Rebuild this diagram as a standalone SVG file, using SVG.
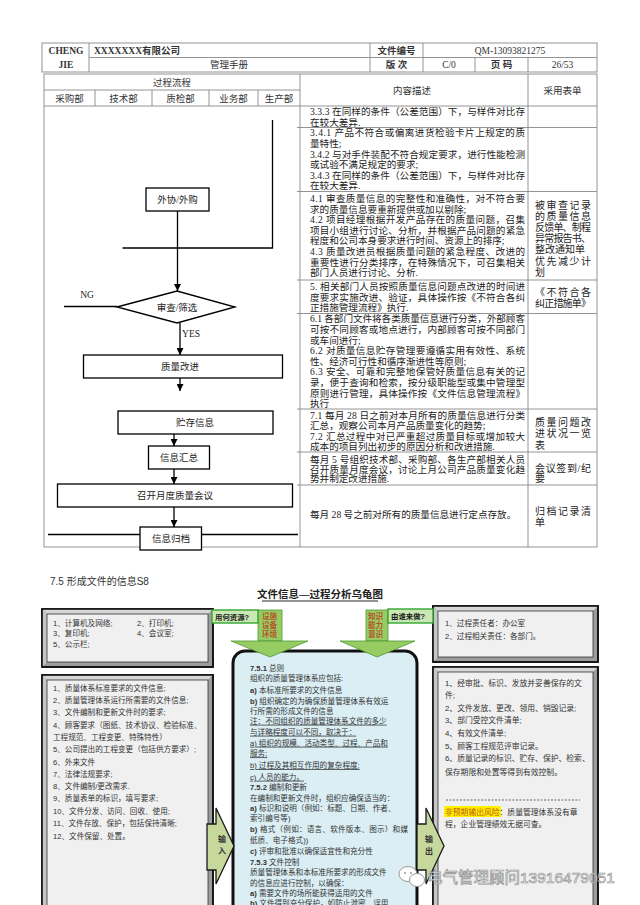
<svg xmlns="http://www.w3.org/2000/svg" width="640" height="905" viewBox="0 0 640 905">
<defs>
<style>
.t{font-family:"Liberation Serif","Noto Sans CJK SC",serif;fill:#222}
.c{font-size:9.6px}
.fm{font-size:10px}
.hd{font-size:9.5px;fill:#333}
.s{font-family:"Liberation Sans","Noto Sans CJK SC",sans-serif;fill:#333}
.b{font-weight:bold}
.grid{stroke:#888;stroke-width:0.9;fill:none}
.nb{fill:#fff;stroke:#000;stroke-width:1.3}
.fl{font-size:9.5px;fill:#222;text-anchor:middle}
.sm{font-size:7.6px}
.tag{fill:#c9e8b3;stroke:#33a532;stroke-width:1.4}
.tagt{font-size:7.4px;font-weight:bold;fill:#1a1a1a}
.res{font-size:7.6px;font-weight:bold;fill:#b4532a}
.garrow{fill:#97cc63;stroke:#4d9a33;stroke-width:0.8}
.ioarrow{fill:#c6d89c;stroke:#1a1a1a;stroke-width:1.3}
.u{text-decoration:underline}
</style>
<marker id="ah" viewBox="0 0 10 10" refX="10" refY="5" markerWidth="7" markerHeight="7" markerUnits="userSpaceOnUse" orient="auto">
<path d="M0,0 L10,5 L0,10 z" fill="#000"/>
</marker>
</defs>
<rect width="640" height="905" fill="#fff"/>

<!-- header -->
<g id="header">
<rect x="42" y="43" width="555" height="29" class="grid"/>
<line x1="89" y1="57.5" x2="597" y2="57.5" class="grid"/>
<line x1="89" y1="43" x2="89" y2="72" class="grid"/>
<line x1="370" y1="43" x2="370" y2="72" class="grid"/>
<line x1="423" y1="43" x2="423" y2="72" class="grid"/>
<line x1="475" y1="57.5" x2="475" y2="72" class="grid"/>
<line x1="528" y1="57.5" x2="528" y2="72" class="grid"/>
<text class="t hd b" x="66" y="54" text-anchor="middle">CHENG</text>
<text class="t hd b" x="66" y="68" text-anchor="middle">JIE</text>
<text class="t hd b" x="94" y="54">XXXXXXX有限公司</text>
<text class="t hd" x="229" y="68" text-anchor="middle">管理手册</text>
<text class="t hd b" x="396.5" y="54" text-anchor="middle">文件编号</text>
<text class="t hd" x="510" y="54" text-anchor="middle">QM-13093821275</text>
<text class="t hd b" x="396.5" y="68" text-anchor="middle">版 次</text>
<text class="t hd" x="449" y="68" text-anchor="middle">C/0</text>
<text class="t hd b" x="501.5" y="68" text-anchor="middle">页 码</text>
<text class="t hd" x="562.5" y="68" text-anchor="middle">26/53</text>
</g>

<!-- table -->
<g id="table">
<rect x="44" y="74" width="553" height="473" class="grid"/>
<line x1="44" y1="90" x2="300" y2="90" class="grid"/>
<line x1="44" y1="106" x2="597" y2="106" class="grid"/>
<line x1="95" y1="90" x2="95" y2="106" class="grid"/>
<line x1="152" y1="90" x2="152" y2="106" class="grid"/>
<line x1="209" y1="90" x2="209" y2="106" class="grid"/>
<line x1="258" y1="90" x2="258" y2="106" class="grid"/>
<line x1="300" y1="74" x2="300" y2="547" class="grid"/>
<line x1="528" y1="74" x2="528" y2="547" class="grid"/>
<line x1="297" y1="127.5" x2="597" y2="127.5" class="grid"/>
<line x1="297" y1="191.5" x2="597" y2="191.5" class="grid"/>
<line x1="297" y1="280" x2="597" y2="280" class="grid"/>
<line x1="297" y1="313.5" x2="597" y2="313.5" class="grid"/>
<line x1="297" y1="409" x2="597" y2="409" class="grid"/>
<line x1="297" y1="452" x2="597" y2="452" class="grid"/>
<line x1="297" y1="485" x2="597" y2="485" class="grid"/>
<text class="t hd" x="172" y="86" text-anchor="middle">过程流程</text>
<text class="t hd" x="69.5" y="102" text-anchor="middle">采购部</text>
<text class="t hd" x="123.5" y="102" text-anchor="middle">技术部</text>
<text class="t hd" x="180.5" y="102" text-anchor="middle">质检部</text>
<text class="t hd" x="233.5" y="102" text-anchor="middle">业务部</text>
<text class="t hd" x="279" y="102" text-anchor="middle">生产部</text>
<text class="t hd" x="412" y="94" text-anchor="middle">内容描述</text>
<text class="t hd" x="562.5" y="94" text-anchor="middle">采用表单</text>
</g>

<!-- content column -->
<g id="content" class="t c">
<text x="310" y="115" textLength="215" lengthAdjust="spacing">3.3.3 在同样的条件（公差范围）下，与样件对比存</text>
<text x="310" y="125.5">在较大差异.</text>
<text x="310" y="136.4" textLength="215" lengthAdjust="spacing">3.4.1 产品不符合或偏离进货检验卡片上规定的质</text>
<text x="310" y="147">量特性;</text>
<text x="310" y="157.6" textLength="215" lengthAdjust="spacing">3.4.2 与对手件装配不符合规定要求，进行性能检测</text>
<text x="310" y="168.2">或试验不满足规定的要求;</text>
<text x="310" y="178.8" textLength="215" lengthAdjust="spacing">3.4.3 在同样的条件（公差范围）下，与样件对比存</text>
<text x="310" y="189.4">在较大差异.</text>
<text x="310" y="202" textLength="215" lengthAdjust="spacing">4.1 审查质量信息的完整性和准确性，对不符合要</text>
<text x="310" y="212.6">求的质量信息要重新提供或加以剔除;</text>
<text x="310" y="223.2" textLength="215" lengthAdjust="spacing">4.2 项目经理根据开发产品存在的质量问题，召集</text>
<text x="310" y="233.8" textLength="215" lengthAdjust="spacing">项目小组进行讨论、分析，并根据产品问题的紧急</text>
<text x="310" y="244.4">程度和公司本身要求进行时间、资源上的排序;</text>
<text x="310" y="255" textLength="215" lengthAdjust="spacing">4.3 质量改进员根据质量问题的紧急程度、改进的</text>
<text x="310" y="265.6" textLength="215" lengthAdjust="spacing">重要性进行分类排序，在特殊情况下，可召集相关</text>
<text x="310" y="276.2">部门人员进行讨论、分析.</text>
<text x="310" y="290" textLength="215" lengthAdjust="spacing">5. 相关部门人员按照质量信息问题点改进的时间进</text>
<text x="310" y="300.6" textLength="215" lengthAdjust="spacing">度要求实施改进、验证，具体操作按《不符合各纠</text>
<text x="310" y="311.2">正措施管理流程》执行.</text>
<text x="310" y="322.4" textLength="215" lengthAdjust="spacing">6.1 各部门文件将各类质量信息进行分类，外部顾客</text>
<text x="310" y="333" textLength="215" lengthAdjust="spacing">可按不同顾客或地点进行，内部顾客可按不同部门</text>
<text x="310" y="343.6">或车间进行;</text>
<text x="310" y="354.2" textLength="215" lengthAdjust="spacing">6.2 对质量信息贮存管理要遵循实用有效性、系统</text>
<text x="310" y="364.8">性、经济可行性和循序渐进性等原则;</text>
<text x="310" y="375.4" textLength="215" lengthAdjust="spacing">6.3 安全、可靠和完整地保管好质量信息有关的记</text>
<text x="310" y="386" textLength="215" lengthAdjust="spacing">录，便于查询和检索，按分级职能型或集中管理型</text>
<text x="310" y="396.6" textLength="215" lengthAdjust="spacing">原则进行管理，具体操作按《文件信息管理流程》</text>
<text x="310" y="407.2">执行</text>
<text x="310" y="418.6" textLength="215" lengthAdjust="spacing">7.1 每月 28 日之前对本月所有的质量信息进行分类</text>
<text x="310" y="429.2">汇总，观察公司本月产品质量变化的趋势;</text>
<text x="310" y="439.8" textLength="215" lengthAdjust="spacing">7.2 汇总过程中对已严重超过质量目标或增加较大</text>
<text x="310" y="450.4">成本的项目列出初步的原因分析和改进措施.</text>
<text x="310" y="462.6" textLength="215" lengthAdjust="spacing">每月 5 号组织技术部、采购部、各生产部相关人员</text>
<text x="310" y="472.6" textLength="215" lengthAdjust="spacing">召开质量月度会议，讨论上月公司产品质量变化趋</text>
<text x="310" y="482.4">势并制定改进措施.</text>
<text x="310" y="517.6">每月 28 号之前对所有的质量信息进行定点存放。</text>
</g>

<!-- form column -->
<g id="forms" class="t fm">
<text x="535" y="208.6" textLength="56" lengthAdjust="spacing">被审查记录</text>
<text x="535" y="219.8" textLength="56" lengthAdjust="spacing">的质量信息</text>
<text x="535" y="231" textLength="56" lengthAdjust="spacing">反馈单、制程</text>
<text x="535" y="242.2" textLength="56" lengthAdjust="spacing">异常报告书、</text>
<text x="535" y="253.4">整改通知单</text>
<text x="535" y="264.6" textLength="56" lengthAdjust="spacing">优先减少计</text>
<text x="535" y="275.8">划</text>
<text x="535" y="296" textLength="56" lengthAdjust="spacing">《不符合各</text>
<text x="535" y="307" textLength="56" lengthAdjust="spacing">纠正措施单》</text>
<text x="535" y="425.6" textLength="56" lengthAdjust="spacing">质量问题改</text>
<text x="535" y="437.1" textLength="56" lengthAdjust="spacing">进状况一览</text>
<text x="535" y="448.6">表</text>
<text x="535" y="471.6" textLength="56" lengthAdjust="spacing">会议签到/纪</text>
<text x="535" y="481.6">要</text>
<text x="535" y="514.6" textLength="56" lengthAdjust="spacing">归档记录清</text>
<text x="535" y="525.6">单</text>
</g>

<!-- flowchart connectors -->
<g id="connectors" stroke="#000" stroke-width="1.3" fill="none">
<polyline points="272.5,120 272.5,248 122.5,248"/>
<line x1="177.5" y1="211" x2="177.5" y2="248"/>
<line x1="177.5" y1="248" x2="177.5" y2="291" marker-end="url(#ah)"/>
<line x1="64" y1="306.5" x2="117" y2="306.5"/>
<line x1="180" y1="323" x2="180" y2="355" marker-end="url(#ah)"/>
<line x1="180" y1="378" x2="180" y2="391" marker-end="url(#ah)"/>
<line x1="174" y1="428" x2="174" y2="446" marker-end="url(#ah)"/>
<line x1="174" y1="469" x2="174" y2="484" marker-end="url(#ah)"/>
<line x1="174" y1="507" x2="174" y2="527" marker-end="url(#ah)"/>
<line x1="48" y1="534.5" x2="298" y2="534.5"/>
</g>
<text class="t fl" x="87" y="298">NG</text>
<text class="t fl" x="191" y="337">YES</text>

<g id="n-waixie"><rect x="146" y="188" width="63" height="23" class="nb"/><text class="t fl" x="177.5" y="203">外协/外购</text></g>
<g id="n-shencha"><polygon points="117,307 177,291 235,307 177,323" class="nb"/><text class="t fl" x="177" y="310.5">审查/筛选</text></g>
<g id="n-gaijin"><rect x="83.5" y="355" width="199" height="23" class="nb"/><text class="t fl" x="180" y="370">质量改进</text></g>
<g id="n-zhucun"><rect x="118" y="411" width="155" height="23" class="nb"/><text class="t fl" x="195" y="426">贮存信息</text></g>
<g id="n-huizong"><rect x="148.5" y="446" width="61" height="23" class="nb"/><text class="t fl" x="179" y="461">信息汇总</text></g>
<g id="n-huiyi"><rect x="57.5" y="484" width="235" height="23" class="nb"/><text class="t fl" x="175" y="499">召开月度质量会议</text></g>
<g id="n-guidang"><rect x="140" y="527" width="61.5" height="23" class="nb"/><text class="t fl" x="171" y="542">信息归档</text></g>

<!-- bottom section -->
<text class="s" x="50" y="585" font-size="10">7.5 形成文件的信息S8</text>
<text class="t b" x="320" y="598" font-size="10.5" text-anchor="middle" fill="#111">文件信息—过程分析乌龟图</text>
<line x1="262" y1="601" x2="378" y2="601" stroke="#111" stroke-width="0.9"/>

<g id="box-resources">
<rect x="42" y="609" width="171" height="58" fill="#9c9c9c" stroke="#111" stroke-width="1.6"/>
<polygon points="42,609 213,609 208,614 47,614" fill="#d6d6d6"/>
<polygon points="42,609 47,614 47,662 42,667" fill="#c6c6c6"/>
<rect x="47" y="614" width="161" height="48" fill="#f0f0f0" stroke="#333" stroke-width="0.8"/>
<rect x="42" y="609" width="171" height="58" fill="none" stroke="#111" stroke-width="1.6"/>
<g class="s sm">
<text x="53" y="625.5">1、计算机及网络;</text>
<text x="137" y="625.5">2、打印机;</text>
<text x="53" y="636">3、复印机;</text>
<text x="137" y="636">4、会议室;</text>
<text x="53" y="646.5">5、公示栏;</text>
</g>
</g>

<g id="box-input">
<rect x="42" y="675" width="171" height="260" fill="#9c9c9c" stroke="#111" stroke-width="1.6"/>
<polygon points="42,675 213,675 208,680 47,680" fill="#d6d6d6"/>
<polygon points="42,675 47,680 47,930 42,935" fill="#c6c6c6"/>
<rect x="47" y="680" width="161" height="250" fill="#f0f0f0" stroke="#333" stroke-width="0.8"/>
<rect x="42" y="675" width="171" height="260" fill="none" stroke="#111" stroke-width="1.6"/>
<g class="s sm">
<text x="53" y="691">1、质量体系标准要求的文件信息;</text>
<text x="53" y="703">2、质量管理体系运行所需要的文件信息;</text>
<text x="53" y="715">3、文件编制和更新文件时的要求;</text>
<text x="53" y="728">4、顾客要求（图纸、技术协议、检验标准、</text>
<text x="53" y="740">工程规范、工程变更、特殊特性）</text>
<text x="53" y="752">5、公司提出的工程变更（包括供方要求）;</text>
<text x="53" y="765">6、外来文件</text>
<text x="53" y="776.5">7、法律法规要求;</text>
<text x="53" y="789">8、文件编制/更改需求.</text>
<text x="53" y="801">9、质量表单的标识，填写要求;</text>
<text x="53" y="814">10、文件分发、访问、回收、使用;</text>
<text x="53" y="826">11、文件存放、保护，包括保持清晰;</text>
<text x="53" y="839">12、文件保留、处置。</text>
</g>
</g>

<g id="box-who">
<rect x="433" y="606" width="165" height="56" fill="#9c9c9c" stroke="#111" stroke-width="1.6"/>
<polygon points="433,606 598,606 593,611 438,611" fill="#d6d6d6"/>
<polygon points="433,606 438,611 438,657 433,662" fill="#c6c6c6"/>
<rect x="438" y="611" width="155" height="46" fill="#f0f0f0" stroke="#333" stroke-width="0.8"/>
<rect x="433" y="606" width="165" height="56" fill="none" stroke="#111" stroke-width="1.6"/>
<g class="s sm">
<text x="445" y="625.5">1、过程责任者：办公室</text>
<text x="445" y="639">2、过程相关责任：各部门。</text>
</g>
</g>

<g id="box-output">
<rect x="433" y="667" width="165" height="260" fill="#9c9c9c" stroke="#111" stroke-width="1.6"/>
<polygon points="433,667 598,667 593,672 438,672" fill="#d6d6d6"/>
<polygon points="433,667 438,672 438,922 433,927" fill="#c6c6c6"/>
<rect x="438" y="672" width="155" height="250" fill="#f0f0f0" stroke="#333" stroke-width="0.8"/>
<rect x="433" y="667" width="165" height="260" fill="none" stroke="#111" stroke-width="1.6"/>
<g class="s" font-size="7.8">
<text x="445" y="686.3">1、经审批、标识、发放并妥善保存的文</text>
<text x="445" y="698">件;</text>
<text x="445" y="711">2、文件发放、更改、领用、销毁记录;</text>
<text x="445" y="723">3、部门受控文件清单;</text>
<text x="445" y="736">4、有效文件清单;</text>
<text x="445" y="748.7">5、顾客工程规范评审记录。</text>
<text x="445" y="761">6、质量记录的标识、贮存、保护、检索、</text>
<text x="445" y="774.7">保存期限和处置等得到有效控制。</text>
<line x1="446" y1="800" x2="580" y2="800" stroke="#444" stroke-width="0.8" stroke-dasharray="2,1.5"/>
<rect x="444" y="806" width="57" height="11" fill="#fff200"/>
<text x="445" y="814.7"><tspan fill="#c0561a">非预期输出风险</tspan>：质量管理体系没有章</text>
<text x="445" y="826.5">程，企业管理绩效无据可查。</text>
</g>
</g>

<g id="process">
<rect x="233" y="651" width="184" height="290" rx="12" fill="#daeef3" stroke="#111" stroke-width="3"/>
<g class="s sm" fill="#222">
<text x="250" y="671.3"><tspan font-weight="bold">7.5.1</tspan> 总则</text>
<text x="250" y="681.3">组织的质量管理体系应包括:</text>
<text x="250" y="693"><tspan font-weight="bold">a)</tspan> 本标准所要求的文件信息</text>
<text x="250" y="703.7"><tspan font-weight="bold">b)</tspan> 组织确定的为确保质量管理体系有效运</text>
<text x="250" y="713.7">行所需的形成文件的信息</text>
<text x="250" y="723.7" class="u">注：不同组织的质量管理体系文件的多少</text>
<text x="250" y="734.7" class="u">与详略程度可以不同，取决于：</text>
<text x="250" y="745.7" class="u">a) 组织的规模、活动类型、过程、产品和</text>
<text x="250" y="756.3" class="u">服务;</text>
<text x="250" y="768" class="u">b) 过程及其相互作用的复杂程度;</text>
<text x="250" y="779.7" class="u">c) 人员的能力。</text>
<text x="250" y="789.7"><tspan font-weight="bold">7.5.2</tspan> 编制和更新</text>
<text x="250" y="801.3">在编制和更新文件时，组织应确保适当的：</text>
<text x="250" y="811.3"><tspan font-weight="bold">a)</tspan> 标识和说明（例如：标题、日期、作者、</text>
<text x="250" y="821.3">索引编号等)</text>
<text x="250" y="832" textLength="158" lengthAdjust="spacing"><tspan font-weight="bold">b)</tspan> 格式（例如：语言、软件版本、图示）和媒</text>
<text x="250" y="843">纸质、电子格式))</text>
<text x="250" y="854"><tspan font-weight="bold">c)</tspan> 评审和批准以确保适宜性和充分性</text>
<text x="250" y="864.7"><tspan font-weight="bold">7.5.3</tspan> 文件控制</text>
<text x="250" y="875.3">质量管理体系和本标准所要求的形成文件</text>
<text x="250" y="886.3">的信息应进行控制，以确保：</text>
<text x="250" y="896.3"><tspan font-weight="bold">a)</tspan> 需要文件的场所能获得适用的文件</text>
<text x="250" y="906"><tspan font-weight="bold">b)</tspan> 文件得到充分保护，如防止泄密、误用</text>
</g>
</g>

<g id="arrow-resources">
<rect x="258" y="610" width="24" height="31" class="garrow"/>
<polygon points="231,641 308,641 270,657" class="garrow"/>
<rect x="212" y="610" width="46" height="13" class="tag"/>
<text class="s tagt" x="215" y="619.5">用何资源?</text>
<text class="s res" x="262" y="619">设施</text>
<text class="s res" x="262" y="628">设备</text>
<text class="s res" x="262" y="637">环境</text>
</g>

<g id="arrow-who">
<rect x="366" y="610" width="22" height="31" class="garrow"/>
<polygon points="340,641 415,641 377,657" class="garrow"/>
<rect x="388" y="609" width="45" height="14" class="tag"/>
<text class="s tagt" x="391" y="619">由谁来做?</text>
<text class="s res" x="368" y="619">知识</text>
<text class="s res" x="368" y="628">能力</text>
<text class="s res" x="368" y="637">意识</text>
</g>

<g id="arrow-input">
<polygon points="207,824 216,824 216,808 234,846 216,884 216,870 207,870" class="ioarrow"/>
<text class="s b" x="222" y="842" font-size="8" text-anchor="middle" fill="#222">输</text>
<text class="s b" x="222" y="854" font-size="8" text-anchor="middle" fill="#222">入</text>
</g>

<g id="arrow-output">
<polygon points="417,824 426,824 426,808 444,846 426,884 426,870 417,870" class="ioarrow"/>
<text class="s b" x="429" y="842" font-size="8" text-anchor="middle" fill="#222">输</text>
<text class="s b" x="429" y="854" font-size="8" text-anchor="middle" fill="#222">出</text>
</g>

<g id="watermark">
<ellipse cx="408" cy="874" rx="9" ry="7.5" fill="#fff" stroke="#999" stroke-width="1"/>
<ellipse cx="417" cy="880" rx="7.5" ry="6.5" fill="#fff" stroke="#999" stroke-width="1"/>
<circle cx="405" cy="873" r="1" fill="#999"/><circle cx="411" cy="873" r="1" fill="#999"/>
<text x="427" y="883" font-family="Liberation Sans,Noto Sans CJK SC,sans-serif" font-size="15.5" fill="#fff" stroke="#8a8a8a" stroke-width="0.7" opacity="0.9">电气管理顾问13916479051</text>
</g>
</svg>
